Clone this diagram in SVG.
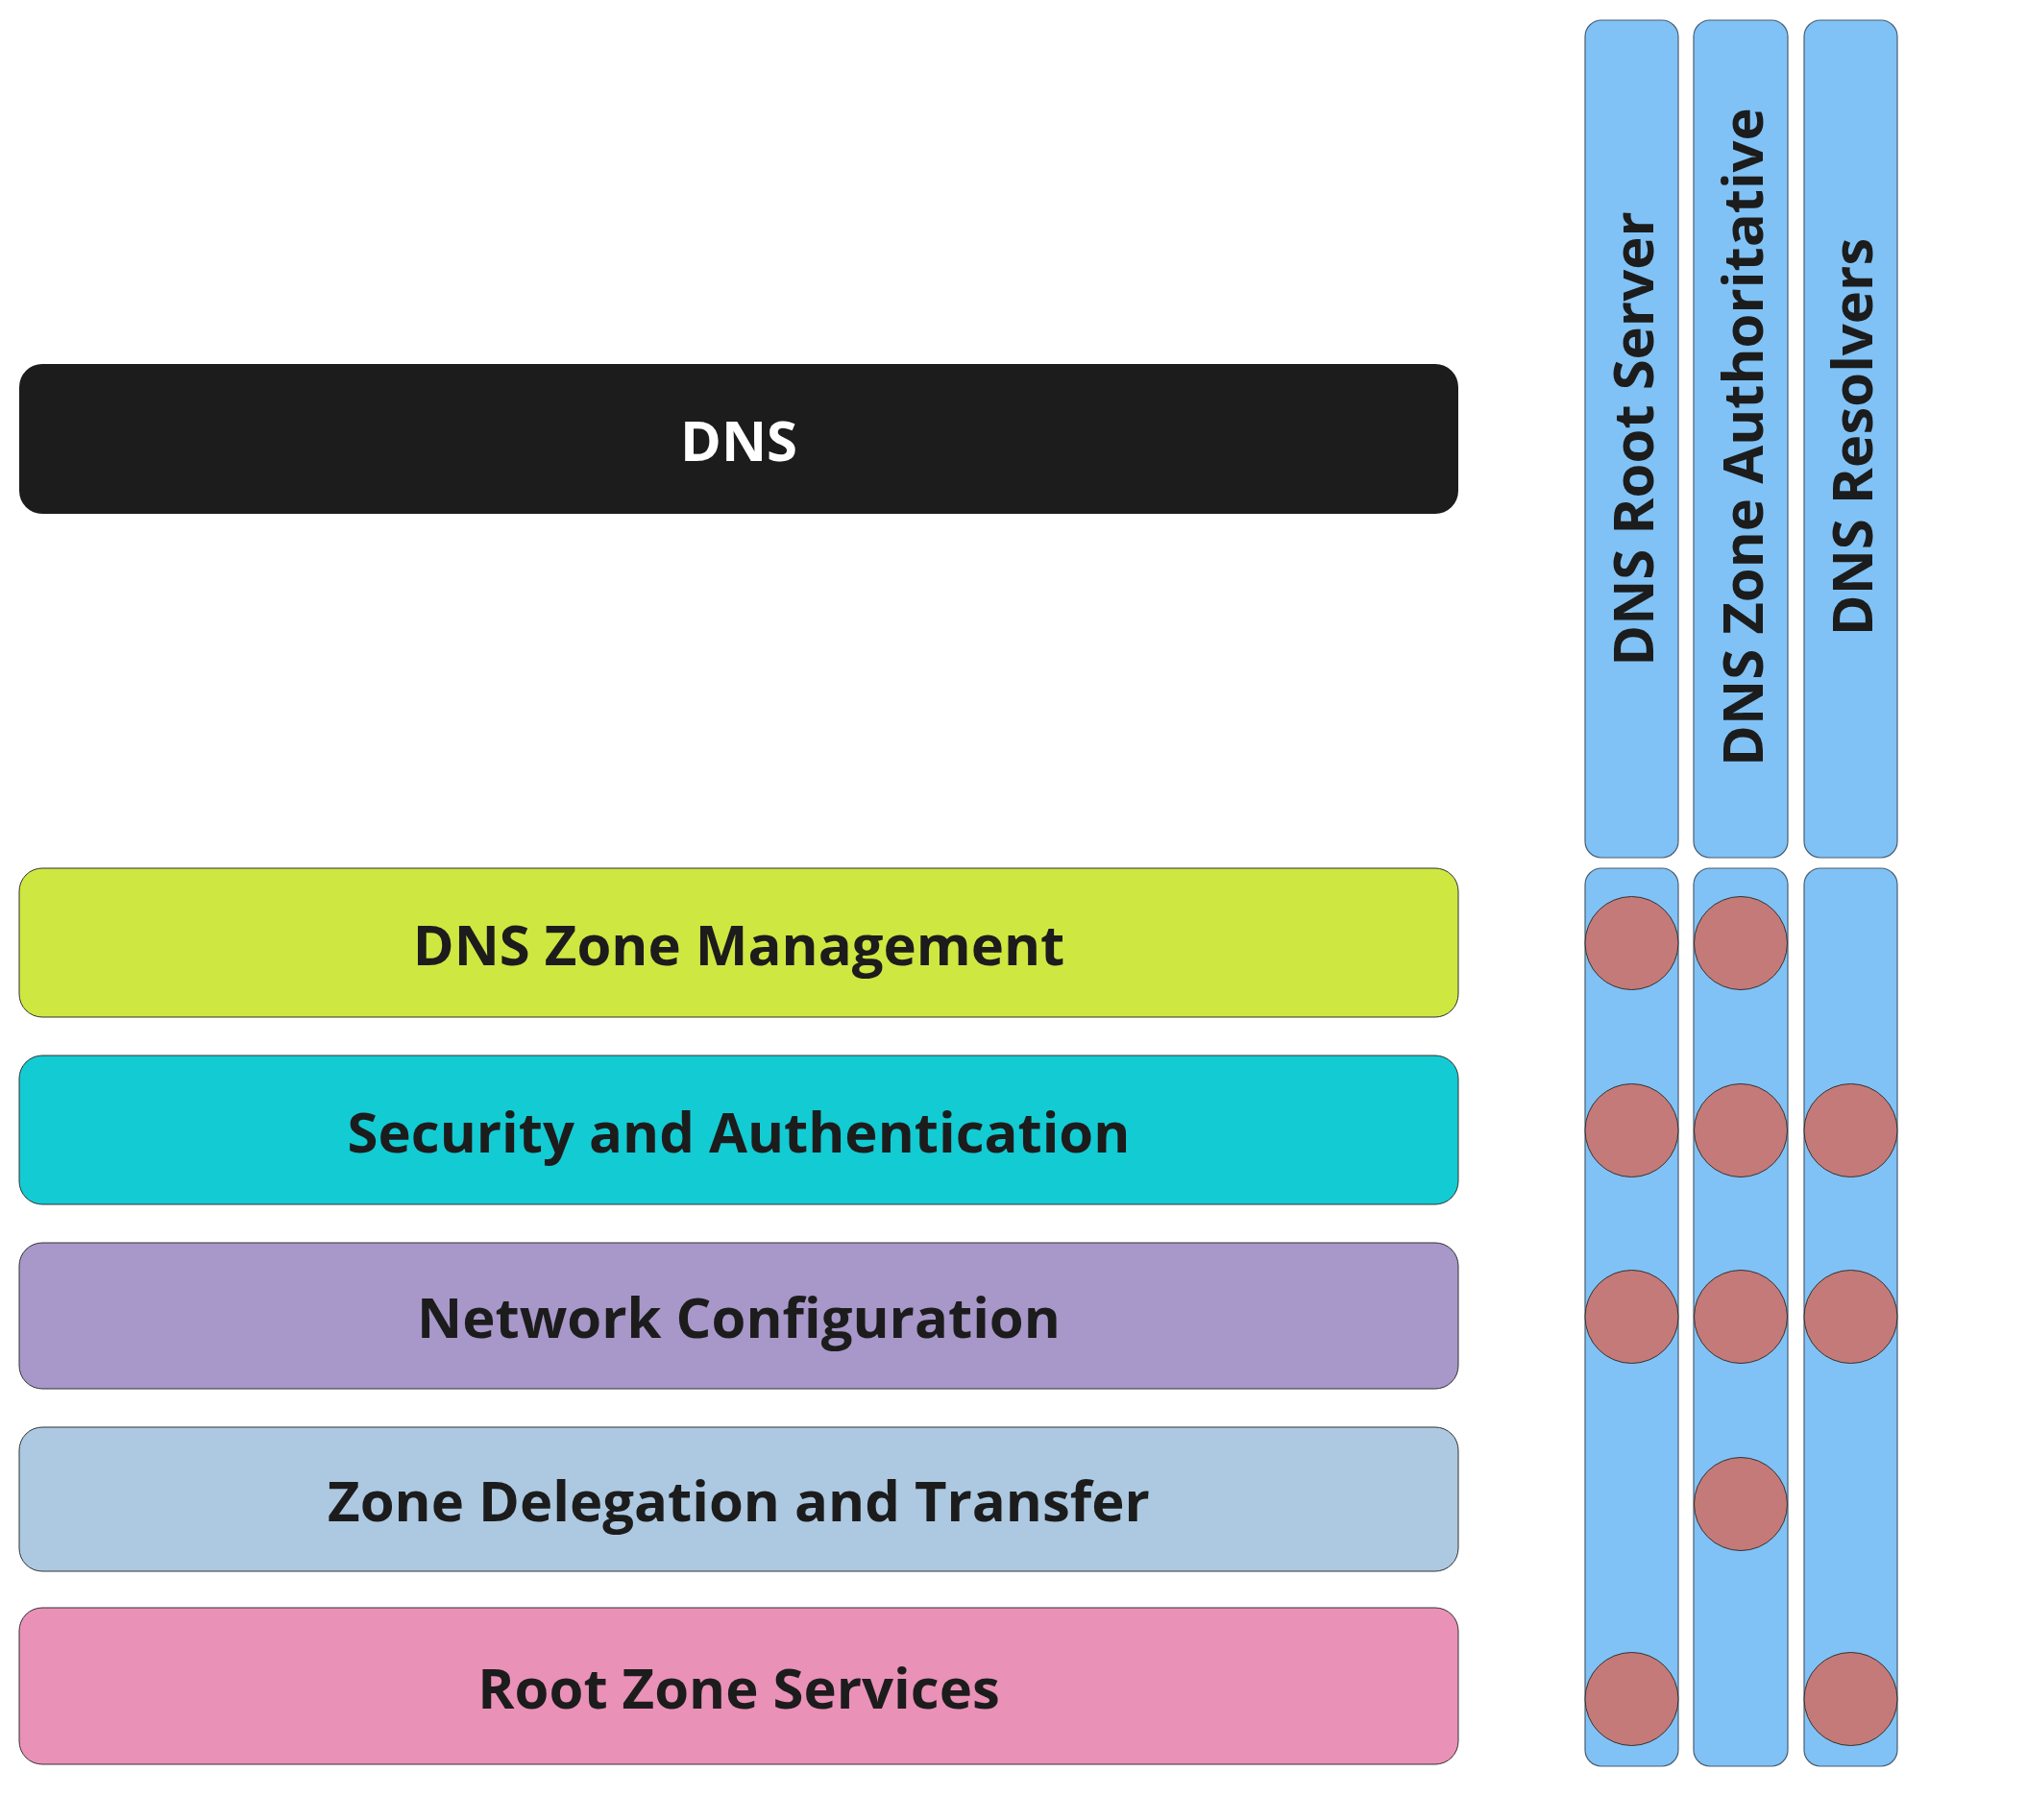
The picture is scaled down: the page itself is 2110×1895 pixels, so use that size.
<svg xmlns="http://www.w3.org/2000/svg" width="2110" height="1895" viewBox="0 0 2110 1895">
<style>
.lbl{font-family:"Open Sans","DejaVu Sans",sans-serif;font-weight:700;font-size:58px;fill:#1c1c1c;text-anchor:middle}
.row{stroke:#333;stroke-width:1}
.col{fill:#80c2f5;stroke:#4a5e72;stroke-width:1.2}
.dot{fill:#c47a78;stroke:#333;stroke-width:1}
</style>
<rect width="2110" height="1895" fill="#fff"/>
<g id="dns">
<rect x="20" y="379" width="1498" height="156" rx="24" fill="#1c1c1c"/>
<text class="lbl" x="769" y="480" style="fill:#fff">DNS</text>
</g>
<g id="row-zone-management">
<rect class="row" x="20" y="904" width="1498" height="155" rx="24" fill="#cfe741"/>
<text class="lbl" x="769" y="1005">DNS Zone Management</text>
</g>
<g id="row-security">
<rect class="row" x="20" y="1099" width="1498" height="155" rx="24" fill="#13cbd3"/>
<text class="lbl" x="769" y="1200">Security and Authentication</text>
</g>
<g id="row-network">
<rect class="row" x="20" y="1294" width="1498" height="152" rx="24" fill="#a897c9"/>
<text class="lbl" x="769" y="1393">Network Configuration</text>
</g>
<g id="row-delegation">
<rect class="row" x="20" y="1486" width="1498" height="150" rx="24" fill="#adc9e1"/>
<text class="lbl" x="769" y="1584">Zone Delegation and Transfer</text>
</g>
<g id="row-root-zone">
<rect class="row" x="20" y="1674" width="1498" height="163" rx="24" fill="#ea91b8"/>
<text class="lbl" x="769" y="1779">Root Zone Services</text>
</g>
<g id="col-root-server">
<rect class="col" x="1650" y="21" width="97" height="872" rx="17"/>
<text class="lbl" transform="translate(1721,457) rotate(-90)">DNS Root Server</text>
<rect class="col" x="1650" y="904" width="97" height="935" rx="17"/>
</g>
<g id="col-zone-auth">
<rect class="col" x="1763" y="21" width="98" height="872" rx="17"/>
<text class="lbl" transform="translate(1835,455) rotate(-90)">DNS Zone Authoritative</text>
<rect class="col" x="1763" y="904" width="98" height="935" rx="17"/>
</g>
<g id="col-resolvers">
<rect class="col" x="1878" y="21" width="97" height="872" rx="17"/>
<text class="lbl" transform="translate(1949,455) rotate(-90)">DNS Resolvers</text>
<rect class="col" x="1878" y="904" width="97" height="935" rx="17"/>
</g>
<g id="connectors">
<circle class="dot" cx="1698.5" cy="982" r="48.5"/>
<circle class="dot" cx="1812" cy="982" r="48.5"/>
<circle class="dot" cx="1698.5" cy="1177" r="48.5"/>
<circle class="dot" cx="1812" cy="1177" r="48.5"/>
<circle class="dot" cx="1926.5" cy="1177" r="48.5"/>
<circle class="dot" cx="1698.5" cy="1371" r="48.5"/>
<circle class="dot" cx="1812" cy="1371" r="48.5"/>
<circle class="dot" cx="1926.5" cy="1371" r="48.5"/>
<circle class="dot" cx="1812" cy="1566" r="48.5"/>
<circle class="dot" cx="1698.5" cy="1769" r="48.5"/>
<circle class="dot" cx="1926.5" cy="1769" r="48.5"/>
</g>
</svg>
